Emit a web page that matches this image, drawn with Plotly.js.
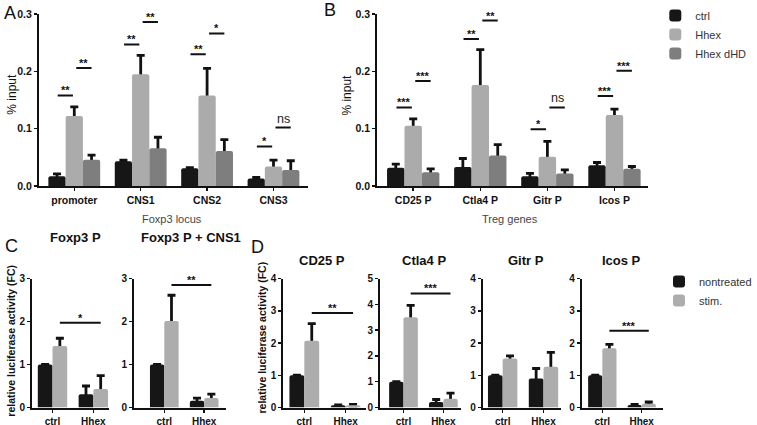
<!DOCTYPE html>
<html><head><meta charset="utf-8">
<script src="https://cdn.plot.ly/plotly-3.0.1.min.js"></script>
<style>html,body{margin:0;padding:0;background:#fff;}#chart{width:757px;height:425px;}</style>
</head><body><div id="chart"></div>
<script>
// ---------------- data ----------------
const seriesAB = ['ctrl', 'Hhex', 'Hhex dHD'];

const locusCats = ['promoter', 'CNS1', 'CNS2', 'CNS3'];
const locusCtrl = [0.017, 0.043, 0.031, 0.013];
const locusCtrlErr = [0.004, 0.002, 0.001, 0.002];
const locusHhex = [0.122, 0.195, 0.158, 0.034];
const locusHhexErr = [0.016, 0.033, 0.047, 0.011];
const locusDHD = [0.046, 0.066, 0.061, 0.028];
const locusDHDErr = [0.008, 0.019, 0.020, 0.016];
const locusSigCat = [0, 0, 1, 1, 2, 2, 3, 3];
const locusSigPair = [0, 1, 0, 1, 0, 1, 0, 1];
const locusSigY = [0.158, 0.206, 0.247, 0.286, 0.230, 0.266, 0.069, 0.102];
const locusSigLabel = ['**', '**', '**', '**', '**', '*', '*', 'ns'];

const tregCats = ['CD25 P', 'Ctla4 P', 'Gitr P', 'Icos P'];
const tregCtrl = [0.032, 0.033, 0.017, 0.036];
const tregCtrlErr = [0.006, 0.015, 0.005, 0.005];
const tregHhex = [0.105, 0.176, 0.051, 0.124];
const tregHhexErr = [0.012, 0.062, 0.027, 0.010];
const tregDHD = [0.024, 0.053, 0.022, 0.030];
const tregDHDErr = [0.006, 0.019, 0.006, 0.004];
const tregSigCat = [0, 0, 1, 1, 2, 2, 3, 3];
const tregSigPair = [0, 1, 0, 1, 0, 1, 0, 1];
const tregSigY = [0.137, 0.183, 0.2565, 0.2885, 0.099, 0.137, 0.157, 0.201];
const tregSigLabel = ['***', '***', '**', '**', '*', 'ns', '***', '***'];

const seriesCD = ['nontreated', 'stim.'];
const lucCats = ['ctrl', 'Hhex'];
const lucPanels = ['Foxp3 P', 'Foxp3 P + CNS1', 'CD25 P', 'Ctla4 P', 'Gitr P', 'Icos P'];
const lucNontreated = [[1.0, 0.31], [1.0, 0.155], [1.0, 0.07], [1.0, 0.21], [1.0, 0.90], [1.0, 0.08]];
const lucNontreatedErr = [[0, 0.19], [0, 0.065], [0, 0.01], [0, 0.10], [0, 0.31], [0, 0.02]];
const lucStim = [[1.43, 0.43], [2.01, 0.22], [2.07, 0.07], [3.50, 0.34], [1.52, 1.26], [1.84, 0.12]];
const lucStimErr = [[0.18, 0.31], [0.60, 0.09], [0.53, 0.03], [0.46, 0.22], [0.08, 0.45], [0.12, 0.05]];
const lucYMax = [3, 3, 4, 5, 4, 4];
const lucSigY = [1.97, 2.85, 2.93, 4.42, null, 2.38];
const lucSigLabel = ['*', '**', '**', '***', '', '***'];

// ---------------- styles / layout geometry ----------------
const W = 757, H = 425;
const px = v => v / W;
const py = v => 1 - v / H;
const F = 'Liberation Sans, Arial, Helvetica, sans-serif';
const INK = '#111111';
const COL_AB = ['#161616', '#ababab', '#7e7e7e'];
const COL_CD = ['#161616', '#adadad'];

// top panels: pixel domain, first category centre, category spacing
const topGeo = [
  {dom: [40, 317], c0: 76.4, s: 68.3},
  {dom: [388, 667], c0: 425, s: 69}
];
const topYpx = [14, 186];
const botGeo = [
  {dom: [33, 112], c0: 54, s: 42},
  {dom: [138, 232], c0: 169, s: 41},
  {dom: [291.5, 376], c0: 313, s: 42.5},
  {dom: [391, 474], c0: 415, s: 41},
  {dom: [496.5, 577], c0: 517, s: 42},
  {dom: [598.5, 681.5], c0: 619.5, s: 40.5}
];
const botYpx = [278.5, 407.5];
const titleY = [237.5, 237.5, 260, 260, 260, 260];
const titleX = [77.7, 196, 331.7, 436, 540.7, 639.5];

const layout = {
  width: W, height: H,
  margin: {l: 0, r: 0, t: 0, b: 0},
  paper_bgcolor: '#ffffff', plot_bgcolor: 'rgba(0,0,0,0)',
  barmode: 'overlay', hovermode: false,
  font: {family: F, color: INK},
  shapes: [], annotations: [],
  legend: {x: px(674), y: py(1), xanchor: 'left', yanchor: 'top', bgcolor: 'rgba(0,0,0,0)',
           font: {family: F, size: 11, color: '#333333'}, tracegroupgap: 0},
  legend2: {x: px(678), y: py(267), xanchor: 'left', yanchor: 'top', bgcolor: 'rgba(0,0,0,0)',
            font: {family: F, size: 11, color: '#333333'}, tracegroupgap: 0}
};

const axisBase = {
  showline: true, linewidth: 2, linecolor: INK, ticks: 'outside', ticklen: 3, tickwidth: 1.5,
  tickcolor: INK, showgrid: false, zeroline: false, fixedrange: true
};

function addAxes(i, geo, ypix, yrange, dtick, tickformat, fs) {
  const s = i === 1 ? '' : String(i);
  layout['xaxis' + s] = Object.assign({}, axisBase, {
    type: 'category', anchor: 'y' + s,
    domain: [px(geo.dom[0]), px(geo.dom[1])],
    range: [(geo.dom[0] - geo.c0) / geo.s, (geo.dom[1] - geo.c0) / geo.s],
    tickfont: {family: F, size: fs, weight: 'bold', color: INK}
  });
  layout['yaxis' + s] = Object.assign({}, axisBase, {
    anchor: 'x' + s, domain: [py(ypix[1]), py(ypix[0])], range: yrange,
    tick0: 0, dtick: dtick, tickformat: tickformat,
    tickfont: {family: F, size: fs, weight: 'bold', color: INK}
  });
  return s;
}

const carriers = [], traces = [];
function addBars(s, cats, vals, errs, idx, n, w, color, name, legendId, showLeg) {
  const off = -n * w / 2 + idx * w;
  const xa = 'x' + s, ya = 'y' + s;
  carriers.push({type: 'bar', x: cats, y: vals, width: w, offset: off, xaxis: xa, yaxis: ya,
    marker: {color: 'rgba(0,0,0,0)'}, showlegend: false, hoverinfo: 'skip',
    error_y: {type: 'data', array: errs, visible: true, color: INK, thickness: 2.8, width: 4}});
  traces.push({type: 'bar', x: cats, y: vals, width: w, offset: off, xaxis: xa, yaxis: ya,
    name: name, legend: legendId, showlegend: showLeg,
    marker: {color: color, cornerradius: 2, line: {width: 0}}});
}

function sigLine(s, x0, x1, y, label) {
  layout.shapes.push({type: 'line', xref: 'x' + s, yref: 'y' + s, x0: x0, x1: x1, y0: y, y1: y,
    line: {color: INK, width: 2}});
  const isStar = label.indexOf('*') >= 0;
  layout.annotations.push({xref: 'x' + s, yref: 'y' + s, x: (x0 + x1) / 2, y: y, text: label,
    showarrow: false, xanchor: 'center', yanchor: 'bottom', yshift: isStar ? -3 : 0,
    font: isStar ? {family: F, size: 11, color: INK, weight: 'bold'} : {family: F, size: 12.5, color: '#222222'}});
}

function ann(text, x, y, size, opts) {
  layout.annotations.push(Object.assign({text: text, xref: 'paper', yref: 'paper', x: px(x), y: py(y),
    showarrow: false, xanchor: 'center', yanchor: 'middle',
    font: {family: F, size: size, color: INK}}, opts || {}));
}

// ---- panels A & B ----
const wTop = 0.26;
const topSets = [
  {cats: locusCats, vals: [locusCtrl, locusHhex, locusDHD], errs: [locusCtrlErr, locusHhexErr, locusDHDErr],
   sigCat: locusSigCat, sigPair: locusSigPair, sigY: locusSigY, sigLab: locusSigLabel},
  {cats: tregCats, vals: [tregCtrl, tregHhex, tregDHD], errs: [tregCtrlErr, tregHhexErr, tregDHDErr],
   sigCat: tregSigCat, sigPair: tregSigPair, sigY: tregSigY, sigLab: tregSigLabel}
];
topSets.forEach((set, p) => {
  const s = addAxes(p + 1, topGeo[p], topYpx, [0, 0.3], 0.1, '.1f', 10.5);
  set.vals.forEach((v, k) => addBars(s, set.cats, v, set.errs[k], k, 3, wTop, COL_AB[k], seriesAB[k], 'legend', p === 0));
  set.sigCat.forEach((c, j) => {
    const x0 = set.sigPair[j] === 0 ? c - wTop + 0.01 : c + 0.03;
    const x1 = set.sigPair[j] === 0 ? c - 0.02 : c + wTop;
    sigLine(s, x0, x1, set.sigY[j], set.sigLab[j]);
  });
});

// ---- panels C & D ----
const wBot = 0.36;
lucPanels.forEach((title, p) => {
  const s = addAxes(p + 3, botGeo[p], botYpx, [0, lucYMax[p]], 1, 'd', 10);
  addBars(s, lucCats, lucNontreated[p], lucNontreatedErr[p], 0, 2, wBot, COL_CD[0], seriesCD[0], 'legend2', p === 0);
  addBars(s, lucCats, lucStim[p], lucStimErr[p], 1, 2, wBot, COL_CD[1], seriesCD[1], 'legend2', p === 0);
  if (lucSigY[p] !== null) sigLine(s, wBot / 2, 1 + wBot / 2, lucSigY[p], lucSigLabel[p]);
  ann(title, titleX[p], titleY[p], 13, {font: {family: F, size: 13, color: INK, weight: 'bold'}});
});

// ---- text labels ----
ann('A', 2, 13, 18, {xanchor: 'left'});
ann('B', 331, 10.5, 18, {xanchor: 'left'});
ann('C', 3, 246.5, 18, {xanchor: 'left'});
ann('D', 256, 247, 18, {xanchor: 'left'});
ann('% input', 12, 94, 12, {textangle: -90});
ann('% input', 356.5, 95, 12, {textangle: -90});
ann('Foxp3 locus', 177, 219, 11, {font: {family: F, size: 11, color: '#444444'}});
ann('Treg genes', 525, 219, 11, {font: {family: F, size: 11, color: '#444444'}});
ann('relative luciferase activity (FC)', 11, 341, 10.5, {textangle: -90, font: {family: F, size: 10.5, color: INK, weight: 'bold'}});
ann('relative luciferase activity (FC)', 269, 338, 10.5, {textangle: -90, font: {family: F, size: 10.5, color: INK, weight: 'bold'}});

Plotly.newPlot('chart', carriers.concat(traces), layout, {staticPlot: true, displayModeBar: false});
</script>
</body></html>
